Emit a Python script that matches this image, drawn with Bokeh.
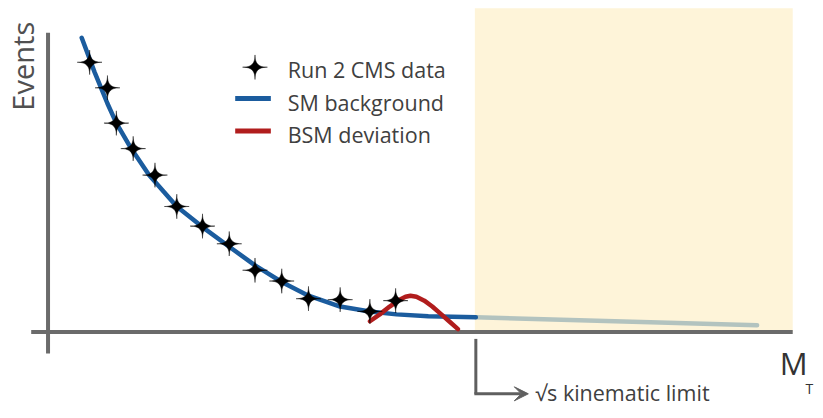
import numpy as np
from bokeh.plotting import figure
from bokeh.models import Range1d, Label, BoxAnnotation, Arrow, VeeHead
from bokeh.embed import file_html
from bokeh.resources import INLINE

# ---- data (arbitrary units) ----
data_mt = [42, 60, 69, 86, 108, 130, 156, 183, 209, 236, 263, 295, 325, 351]
data_events = [275, 249, 213, 187, 160, 128, 108, 90, 63, 52, 34, 33, 21, 32]

sm_mt = [34, 47, 60, 69, 84, 102, 130, 156, 183, 209, 236, 263, 295, 325, 352, 384, 432]
sm_events = [300, 265, 233, 213, 187, 160, 128, 107, 87, 68, 51, 37, 26, 21, 18, 16, 15]

bsm_mt = [325, 335, 345, 355, 361, 366, 372, 380, 388, 396, 405, 414]
bsm_events = [11, 18, 26, 33, 36, 37, 36, 32, 26, 19, 11, 3]

beyond_mt = [432, 716]
beyond_events = [15, 7]

kin_limit = 432
mt_max = 752
events_max = 330

legend_labels = ["Run 2 CMS data", "SM background", "BSM deviation"]

# ---- styling ----
FONT = "Open Sans"
TEXT_COL = "#404040"
AXIS_COL = "#6b6b6b"
BLUE = "#1b5c9e"
RED = "#b11d1d"
FADED = "#b3c3bf"
SHADE = "#fef4d9"

p = figure(width=815, height=410,
           x_range=Range1d(-48, 775), y_range=Range1d(-80, 338),
           output_backend="svg", toolbar_location=None,
           x_axis_location=None, y_axis_location=None,
           min_border=0, min_border_left=0, min_border_right=0,
           min_border_top=0, min_border_bottom=0)
p.grid.visible = False
p.outline_line_color = None
p.background_fill_color = "white"
p.border_fill_color = "white"

# shaded region beyond the kinematic limit
p.add_layout(BoxAnnotation(left=kin_limit - 1, right=mt_max, bottom=0, top=events_max,
                           fill_color=SHADE, fill_alpha=1.0, line_color=None,
                           level="underlay"))

# axis lines
yaxis_top, yaxis_bottom = 305, -22
xaxis_left = -17
p.segment(x0=[0, xaxis_left], y0=[yaxis_top, 0], x1=[0, mt_max], y1=[yaxis_bottom, 0],
          line_color=AXIS_COL, line_width=4)

# curves
p.line(beyond_mt, beyond_events, line_color=FADED, line_width=4.5, line_cap="round")
p.line(sm_mt, sm_events, line_color=BLUE, line_width=4.5, line_cap="round", line_join="round")
p.line(bsm_mt, bsm_events, line_color=RED, line_width=4.5, line_cap="round", line_join="round")


def star(cx, cy, r=12.5, k=4.2, n=80):
    t = np.linspace(0, 2 * np.pi, n, endpoint=False)
    c, s = np.cos(t), np.sin(t)
    return ((cx + r * np.sign(c) * np.abs(c) ** k).tolist(),
            (cy + r * np.sign(s) * np.abs(s) ** k).tolist())


xs, ys = [], []
for mx, ev in zip(data_mt, data_events):
    a, b = star(mx, ev)
    xs.append(a)
    ys.append(b)
p.patches(xs, ys, fill_color="black", line_color="black", line_width=0.5)

# legend (drawn manually)
leg_x0, leg_x1 = 189, 225
leg_text_x = 242
leg_rows = [270, 238, 205]
leg_baselines = [268, 234, 201]
sx, sy = star(209, leg_rows[0])
p.patch(sx, sy, fill_color="black", line_color="black", line_width=0.5)
p.line([leg_x0, leg_x1], [leg_rows[1], leg_rows[1]], line_color=BLUE, line_width=5)
p.line([leg_x0, leg_x1], [leg_rows[2], leg_rows[2]], line_color=RED, line_width=5)
for lab, yb in zip(legend_labels, leg_baselines):
    p.add_layout(Label(x=leg_text_x, y=yb, text=lab, text_font=FONT,
                       text_font_size="21.5px", text_color=TEXT_COL,
                       text_baseline="alphabetic", text_align="left"))

# axis titles
p.add_layout(Label(x=-26, y=271, text="Events", angle=np.pi / 2, text_font=FONT,
                   text_font_size="29px", text_color="#505050",
                   text_align="center", text_baseline="alphabetic"))
p.add_layout(Label(x=739, y=-32, text="M", text_font=FONT,
                   text_font_size="31px", text_color="#333333",
                   text_baseline="alphabetic"))
p.add_layout(Label(x=765, y=-58, text="T", text_font=FONT, text_font_size="14px",
                   text_color="#333333", text_baseline="alphabetic"))

# kinematic limit marker
arrow_y = -63
p.line([kin_limit, kin_limit], [-7, arrow_y], line_color="#5f5f5f", line_width=3)
p.add_layout(Arrow(x_start=kin_limit - 1.5, y_start=arrow_y, x_end=485, y_end=arrow_y,
                   line_color="#5f5f5f", line_width=3,
                   end=VeeHead(size=14, fill_color="#5f5f5f", line_color="#5f5f5f")))
p.add_layout(Label(x=492, y=-62, text="√s kinematic limit", text_font=FONT,
                   text_font_size="21.5px", text_color=TEXT_COL,
                   text_baseline="alphabetic"))

open("out.html", "w").write(file_html(p, INLINE))
